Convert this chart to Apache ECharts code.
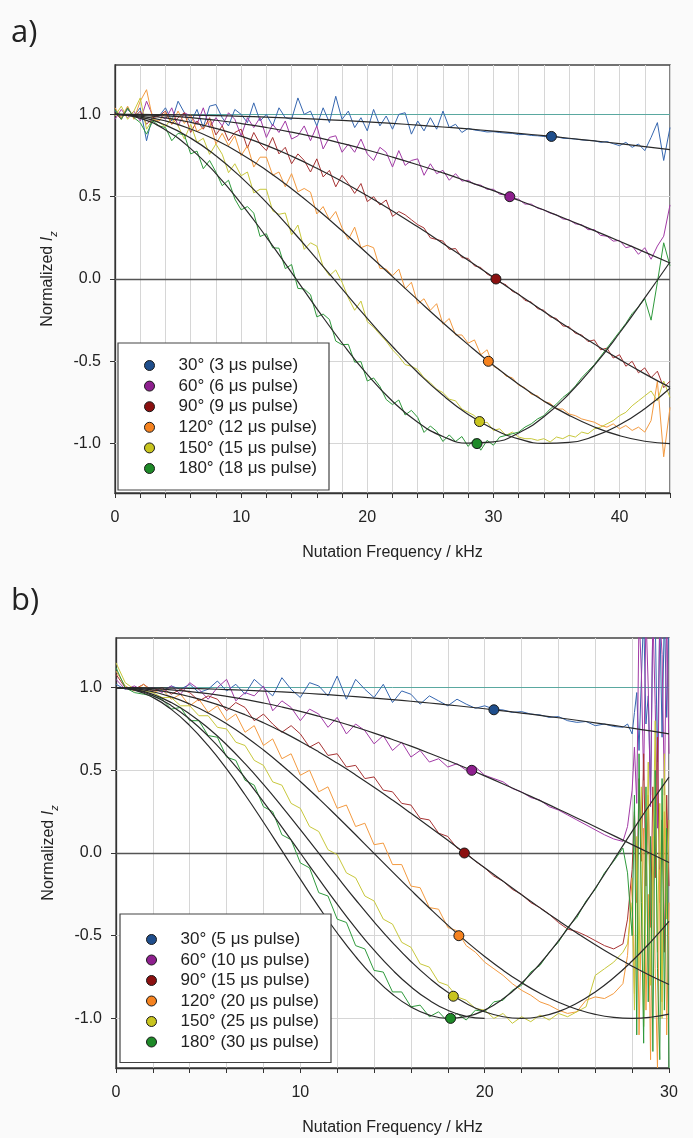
<!DOCTYPE html>
<html><head><meta charset="utf-8">
<script src="https://cdn.jsdelivr.net/npm/echarts@6/dist/echarts.min.js"></script>
<style>html,body{margin:0;padding:0;background:#fafafa;}#c{width:693px;height:1138px;}</style>
</head><body><div id="c"></div>
<script>
// ---------- Panel a ----------
const freqA = [0,0.5,1,1.5,2,2.5,3,3.5,4,4.5,5,5.5,6,6.5,7,7.5,8,8.5,9,9.5,10,10.5,11,11.5,12,12.5,13,13.5,14,14.5,15,15.5,16,16.5,17,17.5,18,18.5,19,19.5,20,20.5,21,21.5,22,22.5,23,23.5,24,24.5,25,25.5,26,26.5,27,27.5,28,28.5,29,29.5,30,30.5,31,31.5,32,32.5,33,33.5,34,34.5,35,35.5,36,36.5,37,37.5,38,38.5,39,39.5,40,40.5,41,41.5,42,42.5,43,43.5,44];
const blueA = [1.02,0.98,1.03,0.99,1.04,0.84,1.00,0.99,
1.04,0.96,1.08,1.01,0.95,1.03,0.92,1.05,1.06,0.98,
0.93,1.03,1.00,0.95,1.07,0.96,1.00,0.93,1.04,0.98,
0.97,1.10,1.00,1.02,0.93,1.04,0.95,1.11,0.97,1.02,
0.92,0.98,0.90,1.03,0.93,0.99,0.91,1.00,1.01,0.88,
0.96,0.90,0.98,0.91,1.02,0.92,0.94,0.89,
0.915,0.905,0.90,0.893,0.895,0.89,0.886,0.885,0.877,0.878,0.872,0.87,0.866,0.862,
0.865,0.855,0.853,0.85,0.845,0.842,0.84,0.83,0.835,0.822,
0.81,0.83,0.80,0.82,0.78,0.86,0.95,0.72,0.92];
const purpleA = [0.97,1.03,0.98,1.02,0.96,1.08,0.99,1.00,
0.97,1.04,0.93,1.01,0.99,0.94,1.04,0.92,0.98,0.93,
1.01,0.97,0.87,0.98,0.92,0.98,0.86,0.94,0.89,0.96,
0.85,0.87,0.93,0.84,0.93,0.79,0.86,0.87,0.77,0.82,
0.77,0.85,0.76,0.72,0.80,0.77,0.68,0.78,0.69,0.72,
0.73,0.63,0.70,0.64,0.66,0.60,0.64,0.595,
0.60,0.575,0.57,0.545,0.545,0.515,0.51,0.49,0.485,0.455,0.455,0.43,0.42,0.40,
0.39,0.365,0.36,0.335,0.33,0.30,0.30,0.265,0.26,0.23,
0.235,0.19,0.20,0.15,0.19,0.12,0.20,0.26,0.45];
const redA = [1.01,0.97,1.04,0.98,1.02,0.94,0.98,0.99,
1.02,0.94,0.98,1.01,0.89,0.96,0.91,0.98,0.875,0.93,
0.84,0.89,0.91,0.795,0.89,0.82,0.78,0.86,0.76,0.80,
0.70,0.76,0.72,0.65,0.73,0.62,0.66,0.56,0.63,0.58,
0.52,0.58,0.47,0.50,0.45,0.48,0.38,0.41,0.39,0.36,
0.33,0.31,0.25,0.24,0.23,0.18,0.185,0.13,
0.125,0.08,0.07,0.03,0.01,-0.02,-0.035,-0.075,-0.09,-0.13,-0.14,-0.18,-0.19,-0.23,
-0.24,-0.285,-0.29,-0.33,-0.34,-0.38,-0.37,-0.43,-0.42,-0.48,
-0.46,-0.53,-0.50,-0.57,-0.54,-0.60,-0.56,-0.66,-0.62];
const orangeA = [1.04,0.98,1.05,0.97,1.08,1.15,0.97,0.96,
1.01,0.94,1.02,0.945,1.00,0.896,0.92,0.96,0.82,0.885,
0.81,0.87,0.75,0.81,0.68,0.74,0.74,0.63,0.65,0.56,
0.64,0.53,0.55,0.527,0.395,0.44,0.36,0.41,0.31,0.24,
0.315,0.19,0.205,0.19,0.065,0.06,0.02,0.06,-0.06,-0.02,
-0.15,-0.12,-0.19,-0.15,-0.275,-0.24,-0.34,-0.34,-0.39,-0.37,
-0.46,-0.43,
-0.53,-0.55,-0.59,-0.60,-0.645,-0.66,-0.70,-0.71,-0.745,-0.755,
-0.79,-0.79,-0.82,-0.83,-0.85,-0.86,-0.87,-0.89,-0.90,-0.88,
-0.91,-0.89,-0.92,-0.90,-0.93,-0.86,-0.62,-1.08,-0.78];
const yellowA = [0.99,1.05,0.97,1.02,1.10,0.91,0.97,0.95,
0.925,0.98,0.93,0.85,0.94,0.83,0.855,0.757,0.82,0.758,
0.646,0.70,0.627,0.65,0.523,0.545,0.545,0.414,0.393,0.401,
0.268,0.328,0.18,0.22,0.20,0.075,0.02,0.055,-0.02,-0.115,
-0.19,-0.134,-0.259,-0.293,-0.336,-0.378,-0.43,-0.47,-0.52,-0.53,
-0.55,-0.60,-0.63,-0.67,-0.69,-0.73,-0.74,-0.79,-0.81,
-0.83,-0.88,-0.87,-0.92,-0.91,-0.95,-0.93,-0.96,-0.97,-0.97,-0.98,-0.97,-0.99,
-0.96,-0.97,-0.95,-0.96,-0.93,-0.94,-0.91,-0.90,-0.88,-0.86,
-0.83,-0.81,-0.77,-0.74,-0.71,-0.68,-0.74,-0.62,-0.72];
const greenA = [1.03,0.97,1.04,0.98,0.95,0.88,0.96,0.93,
0.92,0.84,0.885,0.875,0.76,0.777,0.67,0.72,0.65,0.567,
0.60,0.486,0.42,0.44,0.40,0.258,0.275,0.19,0.187,0.063,
0.088,-0.057,-0.061,-0.095,-0.23,-0.213,-0.246,-0.377,-0.399,-0.397,
-0.505,-0.502,-0.62,-0.601,-0.652,-0.732,-0.763,-0.735,-0.826,-0.798,
-0.841,-0.932,-0.893,-0.925,-0.987,-0.947,-0.987,-0.957,-1.017,
-0.97,-1.04,-0.98,-1.01,-0.96,-0.95,-0.94,-0.93,-0.90,-0.88,-0.85,-0.83,-0.79,
-0.76,-0.72,-0.69,-0.65,-0.60,-0.56,-0.52,-0.47,-0.42,-0.37,
-0.32,-0.27,-0.21,-0.17,-0.12,-0.25,-0.02,0.22,0.08];

const fitFreqA = [0,2,4,6,8,10,12,14,16,18,20,22,24,26,28,30,32,34,36,38,40,42,44];
const fitBlueA = [1,0.9995,0.9982,0.9959,0.9927,0.9885,0.9835,0.9776,0.9708,0.9631,0.9545,0.9450,0.9347,0.9235,0.9115,0.8986,0.8849,0.8704,0.8550,0.8389,0.8221,0.8045,0.7862];
const fitPurpleA = [1,0.9978,0.9910,0.9799,0.9643,0.9444,0.9203,0.8921,0.8599,0.8237,0.7838,0.7405,0.6940,0.6443,0.5915,0.5365,0.4787,0.4188,0.3571,0.2938,0.2292,0.1635,0.0971];
const fitRedA = [1,0.9946,0.9784,0.9517,0.9146,0.8677,0.8114,0.7462,0.6729,0.5926,0.5058,0.4134,0.3167,0.2164,0.1139,0.0101,-0.0939,-0.1968,-0.2976,-0.3951,-0.4883,-0.5763,-0.6582];
const fitOrangeA = [1,0.9900,0.9603,0.9113,0.8440,0.7600,0.6607,0.5484,0.4249,0.2930,0.1552,0.0143,-0.1269,-0.2654,-0.3987,-0.5242,-0.6391,-0.7410,-0.8283,-0.8990,-0.9518,-0.9856,-0.9996];
const fitYellowA = [1,0.9836,0.9350,0.8558,0.7486,0.6170,0.4650,0.2977,0.1208,-0.0600,-0.2389,-0.4101,-0.5677,-0.7067,-0.8225,-0.9117,-0.9708,-0.9981,-0.9928,-0.9549,-0.8858,-0.7877,-0.6636];
const fitGreenA = [1,0.9761,0.9057,0.7920,0.6405,0.4585,0.2546,0.0384,-0.1795,-0.3888,-0.5796,-0.7428,-0.8705,-0.9566,-0.9970,-0.9899,-0.9355,-0.8366,-0.6973,-0.5253,-0.3281,-0.1151,0.1033];

const markerXA = [34.6,31.3,30.2,29.6,28.9,28.7];
const markerYA = [0.866,0.5,0,-0.5,-0.866,-1];
const legendA = ['30° (3 μs pulse)','60° (6 μs pulse)','90° (9 μs pulse)','120° (12 μs pulse)','150° (15 μs pulse)','180° (18 μs pulse)'];
const xLabelsA = [0,10,20,30,40];

// ---------- Panel b ----------
const freqB = [0,0.5,1,1.5,2,2.5,3,3.5,4,4.5,5,5.5,6,6.5,7,7.5,8,8.5,9,9.5,10,10.5,11,11.5,12,12.5,13,13.5,14,14.5,15,15.5,16,16.5,17,17.5,18,18.5,19,19.5,20,20.5,21,21.5,22,22.5,23,23.5,24,24.5,25,25.5,26,26.5,27,27.5,
27.75,28,28.125,28.25,28.375,28.5,28.625,28.75,28.875,29,29.125,29.25,29.375,29.5,29.625,29.75,29.875,30];
const blueB = [1.02,0.99,1.00,0.98,
1.00,0.98,1.01,0.99,1.02,0.97,0.99,1.04,0.98,1.02,
0.96,1.05,1.00,0.95,1.06,0.99,0.94,1.03,1.01,0.95,
1.07,0.93,1.05,0.99,0.94,1.02,0.91,0.98,0.96,0.90,
0.95,0.92,0.89,0.93,0.90,0.875,0.89,
0.87,0.865,0.85,0.855,0.84,0.835,0.82,0.825,0.80,
0.79,0.795,0.77,0.78,0.765,0.76,
0.78,0.72,0.85,0.97,0.62,1.05,1.45,0.78,0.95,0.35,1.45,1.45,0.55,1.45,0.70,1.45,0.82,1.45];
const purpleB = [1.05,0.99,1.01,0.98,
1.00,0.97,1.01,0.96,1.03,0.99,0.93,1.00,1.05,0.92,
0.97,0.95,1.01,0.86,0.92,0.88,0.80,0.87,0.84,0.76,
0.82,0.72,0.78,0.74,0.66,0.71,0.62,0.67,0.58,0.62,
0.55,0.57,0.52,0.54,0.50,0.52,0.47,
0.45,0.43,0.39,0.37,0.335,0.32,0.28,0.26,0.23,
0.20,0.17,0.14,0.11,0.085,0.07,
0.16,0.38,0.64,0.30,1.45,1.10,0.44,1.45,1.00,0.28,1.45,0.90,0.15,1.45,1.20,0.35,1.45,0.60];
const redB = [1.08,1.00,0.99,1.02,0.98,1.00,0.96,0.99,0.97,0.92,
0.95,0.93,0.86,0.91,0.88,0.80,0.84,0.78,0.73,0.77,
0.72,0.64,0.67,0.59,0.60,0.52,0.53,0.45,0.46,0.38,
0.37,0.30,0.29,0.21,0.20,0.12,0.10,0.03,0.00,-0.05,
-0.09,-0.14,-0.17,-0.22,-0.25,-0.30,-0.33,-0.37,-0.42,-0.46,
-0.475,-0.50,-0.53,-0.56,-0.58,-0.55,
-0.40,-0.10,0.25,-0.30,0.45,-0.05,0.60,-0.20,0.35,-0.45,0.40,-0.15,0.70,-0.30,0.20,-0.60,0.35,-0.20];
const orangeB = [1.10,1.01,0.98,1.02,0.97,0.99,0.93,0.96,0.89,0.93,
0.85,0.89,0.80,0.84,0.73,0.77,0.65,0.69,0.57,0.60,
0.47,0.50,0.37,0.40,0.27,0.29,0.16,0.18,0.05,0.06,
-0.07,-0.07,-0.20,-0.21,-0.33,-0.34,-0.45,-0.47,-0.56,-0.60,
-0.66,-0.70,-0.74,-0.79,-0.83,-0.86,-0.90,-0.92,-0.95,-0.97,
-0.96,-0.89,-0.87,-0.88,-0.85,-0.79,
-0.62,-0.15,-0.85,0.05,-1.10,-0.40,0.15,-0.95,-0.25,-1.25,0.10,-0.70,-1.30,-0.10,-0.90,0.25,-1.10,-0.30];
const yellowB = [1.15,1.03,0.99,0.98,0.97,0.94,0.94,0.89,0.89,0.83,
0.83,0.76,0.75,0.67,0.65,0.56,0.53,0.43,0.41,0.30,
0.27,0.16,0.13,0.02,-0.01,-0.12,-0.15,-0.26,-0.29,-0.40,
-0.43,-0.54,-0.57,-0.67,-0.69,-0.78,-0.80,-0.87,-0.89,-0.94,
-0.95,-1.00,-0.97,-1.03,-0.99,-1.02,-0.98,-1.01,-0.97,-0.99,
-0.96,-0.93,-0.74,-0.70,-0.66,-0.60,
-0.55,-0.30,-0.95,0.10,-0.70,0.40,-1.05,-0.20,0.55,-0.80,-0.10,0.80,-0.60,0.30,-1.00,0.60,-0.40,0.20];
const greenB = [1.12,1.00,0.97,0.96,0.95,0.93,0.87,0.88,0.80,0.80,
0.71,0.70,0.58,0.56,0.44,0.41,0.28,0.25,0.11,0.08,
-0.06,-0.09,-0.24,-0.26,-0.40,-0.42,-0.56,-0.58,-0.71,-0.72,
-0.84,-0.84,-0.93,-0.92,-0.99,-0.96,-1.02,-0.97,-1.01,-0.95,
-0.96,-0.90,-0.89,-0.83,-0.80,-0.72,-0.68,-0.60,-0.54,-0.45,
-0.39,-0.29,-0.22,-0.12,-0.05,0.03,
-0.12,-0.50,0.35,-1.10,0.60,-0.30,-1.15,0.40,-0.90,0.10,-1.20,0.50,-0.70,-1.25,0.45,-0.95,0.15,-1.30];

const fitFreqB = [0,1,2,3,4,5,6,7,8,9,10,11,12,13,14,15,16,17,18,19,20,21,22,23,24,25,26,27,28,29,30];
const fitBlueB = [1,0.9997,0.9987,0.9971,0.9948,0.9918,0.9883,0.9840,0.9792,0.9737,0.9675,0.9608,0.9534,0.9453,0.9367,0.9274,0.9175,0.9071,0.8960,0.8844,0.8722,0.8594,0.8461,0.8322,0.8178,0.8028,0.7873,0.7714,0.7549,0.7379,0.7204];
const fitPurpleB = [1,0.9985,0.9941,0.9868,0.9765,0.9634,0.9474,0.9287,0.9072,0.8830,0.8563,0.8270,0.7952,0.7611,0.7248,0.6862,0.6459,0.6034,0.5593,0.5136,0.4663,0.4176,0.3677,0.3167,0.2647,0.2120,0.1587,0.1049,0.0508,-0.0035,-0.0577];
const fitRedB = [1,0.9966,0.9863,0.9692,0.9454,0.9151,0.8786,0.8359,0.7876,0.7337,0.6747,0.6111,0.5435,0.4722,0.3975,0.3201,0.2404,0.1591,0.0767,-0.0063,-0.0891,-0.1714,-0.2524,-0.3318,-0.4088,-0.4831,-0.5541,-0.6211,-0.6843,-0.7424,-0.7950];
const fitOrangeB = [1,0.9937,0.9749,0.9437,0.9007,0.8464,0.7813,0.7064,0.6226,0.5309,0.4326,0.3288,0.2208,0.1101,-0.0021,-0.1141,-0.2248,-0.3326,-0.4362,-0.5343,-0.6257,-0.7093,-0.7836,-0.8486,-0.9024,-0.9451,-0.9758,-0.9941,-1.0000,-0.9932,-0.9740];
const fitYellowB = [1,0.9898,0.9595,0.9095,0.8410,0.7554,0.6547,0.5402,0.4147,0.2810,0.1415,-0.0009,-0.1433,-0.2827,-0.4164,-0.5417,-0.6559,-0.7566,-0.8421,-0.9103,-0.9599,-0.9900,-1.0000,-0.9896,-0.9590,-0.9088,-0.8401,-0.7543,-0.6533,-0.5388,-0.4133];
const fitGreenB = [1,0.9851,0.9408,0.8684,0.7700,0.6487,0.5081,0.3522,0.1859,0.0140,-0.1583,-0.3258,-0.4837,-0.6272,-0.7518,-0.8541,-0.9309,-0.9799,-0.9996,-0.9895,-0.9499,-0.8819,-0.7877,-0.6697,-0.5319,-0.3784,-0.2134,-0.0421,0.1305,0.2992,0.4590];
const fitFreqExtraB = [0,1,2,3,4,5,6,7,8,9,10,11,12,13,14,15,16,17,18,19,20];
const fitExtraB = [1,0.9877,0.9511,0.8910,0.8090,0.7071,0.5878,0.4540,0.3090,0.1564,0,-0.1564,-0.3090,-0.4540,-0.5878,-0.7071,-0.8090,-0.8910,-0.9511,-0.9877,-1];

const markerXB = [20.5,19.3,18.9,18.6,18.3,18.15];
const markerYB = [0.866,0.5,0,-0.5,-0.866,-1];
const legendB = ['30° (5 μs pulse)','60° (10 μs pulse)','90° (15 μs pulse)','120° (20 μs pulse)','150° (25 μs pulse)','180° (30 μs pulse)'];
const xLabelsB = [0,10,20,30];

const yTicks = [-1,-0.5,0,0.5,1];
const hLines = [-1,-0.5,0,0.5,1];

const lineColors = ['#3667b0','#a23aa6','#a83434','#f39a40','#c8c83c','#2f9a3c'];
const markerColors = ['#1f4e8c','#8e1f8e','#8b1010','#f5821f','#c8c41e','#1e8a28'];

const FONT = '"Liberation Sans", Arial, sans-serif';

function pairs(xs, ys){ return ys.map((y,i)=>[xs[i], y]); }

const series = [];
function addPanel(p, freq, dataArrs, fitFreq, fitArrs, extra, mx, my, names){
  series.push({type:'line', xAxisIndex:p, yAxisIndex:p, data:[], silent:true, z:1,
    markLine:{silent:true, z:1, symbol:['none','none'], label:{show:false}, animation:false,
      data: hLines.map(v=>({yAxis:v, lineStyle:{type:'solid',
        color: v===0 ? '#555' : (v===1 ? '#5aa8a0' : '#d6d6d6'),
        width: v===0 ? 1.3 : 1}}))}});
  dataArrs.forEach((arr,k)=>series.push({type:'line', xAxisIndex:p, yAxisIndex:p,
    data: pairs(freq, arr), symbol:'none', silent:true, z:2,
    lineStyle:{width:1, color: lineColors[k]}}));
  fitArrs.forEach(arr=>series.push({type:'line', xAxisIndex:p, yAxisIndex:p,
    data: pairs(fitFreq, arr), symbol:'none', smooth:true, silent:true, z:3,
    lineStyle:{width:1.2, color:'#2a2a2a'}}));
  extra.forEach(e=>series.push({type:'line', xAxisIndex:p, yAxisIndex:p,
    data: pairs(e[0], e[1]), symbol:'none', smooth:true, silent:true, z:3,
    lineStyle:{width:1.2, color:'#2a2a2a'}}));
  names.forEach((n,k)=>series.push({name:n, type:'scatter', xAxisIndex:p, yAxisIndex:p,
    data:[[mx[k], my[k]]], symbolSize:10, silent:true, z:5,
    itemStyle:{color: markerColors[k], borderColor:'#1a1a1a', borderWidth:1, opacity:1}}));
}
addPanel(0, freqA, [blueA,purpleA,redA,orangeA,yellowA,greenA], fitFreqA,
  [fitBlueA,fitPurpleA,fitRedA,fitOrangeA,fitYellowA,fitGreenA], [], markerXA, markerYA, legendA);
addPanel(1, freqB, [blueB,purpleB,redB,orangeB,yellowB,greenB], fitFreqB,
  [fitBlueB,fitPurpleB,fitRedB,fitOrangeB,fitYellowB,fitGreenB], [[fitFreqExtraB, fitExtraB]], markerXB, markerYB, legendB);

function xAx(gi, max, labels){
  return {gridIndex:gi, type:'value', min:0, max:max, interval:2,
    axisLine:{onZero:false, lineStyle:{color:'#333', width:1.3}},
    axisTick:{length:5, lineStyle:{color:'#333'}},
    axisLabel:{margin:17, color:'#222', fontSize:16, fontFamily:FONT,
      formatter: v => labels.indexOf(v) >= 0 ? String(v) : ''},
    splitLine:{show:true, lineStyle:{color:'#d6d6d6', width:1}},
    name:'Nutation Frequency / kHz', nameLocation:'middle', nameGap:52,
    nameTextStyle:{fontSize:16, color:'#222', fontFamily:FONT}};
}
function yAx(gi){
  return {gridIndex:gi, type:'value', min:-1.3, max:1.3,
    axisLine:{show:true, onZero:false, lineStyle:{color:'#333', width:1.3}},
    axisTick:{show:true, length:5, customValues:yTicks, lineStyle:{color:'#333'}},
    axisLabel:{customValues:yTicks, formatter: v => v.toFixed(1), margin:14, fontSize:16, color:'#222', fontFamily:FONT},
    splitLine:{show:false},
    name:'Normalized {i|I}{s|z}', nameLocation:'middle', nameGap:56,
    nameTextStyle:{fontSize:16, color:'#222', fontFamily:FONT, lineHeight:22,
      rich:{i:{fontSize:16, fontStyle:'italic', fontFamily:FONT, lineHeight:22, color:'#222'},
            s:{fontSize:11, fontStyle:'italic', fontFamily:FONT, lineHeight:22, verticalAlign:'bottom', color:'#222'}}}};
}
function leg(names, left, top, pad, gap){
  return {data:names, orient:'vertical', left:left, top:top, padding:pad, itemGap:gap, z:10,
    itemWidth:10, itemHeight:10, icon:'circle', selectedMode:false,
    backgroundColor:'#ffffff', borderColor:'#444', borderWidth:1.2, borderRadius:0,
    itemStyle:{borderColor:'#1a1a1a', borderWidth:1},
    textStyle:{fontSize:17, color:'#222', fontFamily:FONT, lineHeight:19, padding:[0,0,0,19]}};
}

const option = {
  animation:false,
  backgroundColor:'#fafafa',
  graphic:[
    {type:'text', left:11, top:18, style:{text:'a)', font:'31px "Open Sans", Lato, sans-serif', fill:'#222'}},
    {type:'text', left:11, top:586, style:{text:'b)', font:'31px "Open Sans", Lato, sans-serif', fill:'#222'}}
  ],
  grid:[
    {left:115, top:65, width:555, height:428, show:true, backgroundColor:'#ffffff', borderColor:'#444', borderWidth:1.3, containLabel:false},
    {left:116, top:638, width:553, height:430, show:true, backgroundColor:'#ffffff', borderColor:'#444', borderWidth:1.3, containLabel:false}
  ],
  xAxis:[xAx(0, 44, xLabelsA), xAx(1, 30, xLabelsB)],
  yAxis:[yAx(0), yAx(1)],
  legend:[leg(legendA, 118, 343, [13,12,12,26], 1.6), leg(legendB, 120, 914, [16,12,11,26], 1.5)],
  series: series
};
const chart = echarts.init(document.getElementById('c'));
chart.setOption(option);
</script>
</body></html>
